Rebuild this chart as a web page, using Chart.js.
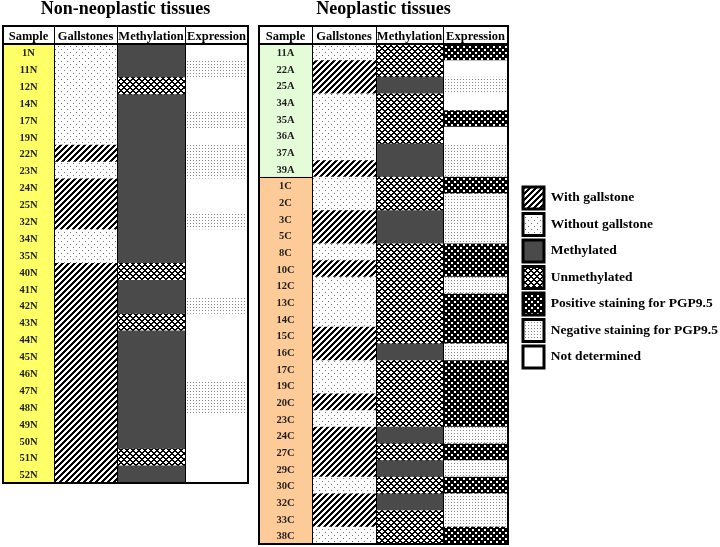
<!DOCTYPE html>
<html>
<head>
<meta charset="utf-8">
<title>Gallstones, methylation and PGP9.5 expression</title>
<script src="https://cdn.jsdelivr.net/npm/chart.js@4.4.1/dist/chart.umd.min.js"></script>
<style>
  body { margin: 0; background: #fff; }
  #wrap { position: relative; width: 720px; height: 547px; overflow: hidden; }
  canvas { position: absolute; top: 0; }
</style>
</head>
<body>
<div id="wrap">
  <canvas id="left-table" width="251" height="547" style="left:0px"></canvas>
  <canvas id="right-table" width="258" height="547" style="left:255px"></canvas>
  <canvas id="legend" width="440" height="547" style="left:518px"></canvas>
</div>
<script>
// ---- data ----
var headers = ['Sample', 'Gallstones', 'Methylation', 'Expression'];

var leftSamples = ['1N','11N','12N','14N','17N','19N','22N','23N','24N','25N','32N','34N','35N',
  '40N','41N','42N','43N','44N','45N','46N','47N','48N','49N','50N','51N','52N'];
var leftGallstones = ['without','without','without','without','without','without','with','without',
  'with','with','with','without','without',
  'with','with','with','with','with','with','with','with','with','with','with','with','with'];
var leftMethylation = ['meth','meth','unmeth','meth','meth','meth','meth','meth','meth','meth','meth','meth','meth',
  'unmeth','meth','meth','unmeth','meth','meth','meth','meth','meth','meth','meth','unmeth','meth'];
var leftExpression = ['nd','neg','nd','nd','neg','nd','neg','neg','nd','nd','neg','nd','nd',
  'nd','nd','neg','nd','nd','nd','nd','neg','neg','nd','nd','nd','nd'];

var rightSamples = ['11A','22A','25A','34A','35A','36A','37A','39A',
  '1C','2C','3C','5C','8C','10C','12C','13C','14C','15C','16C','17C','19C',
  '20C','23C','24C','27C','29C','30C','32C','33C','38C'];
var rightGallstones = ['without','with','with','without','without','without','without','with',
  'without','without','with','with','without','with','without','without','without','with','with','without','without',
  'with','without','with','with','with','without','with','with','without'];
var rightMethylation = ['unmeth','unmeth','meth','unmeth','unmeth','unmeth','meth','meth',
  'unmeth','unmeth','meth','meth','unmeth','unmeth','unmeth','unmeth','unmeth','unmeth','meth','unmeth','unmeth',
  'unmeth','unmeth','meth','unmeth','meth','unmeth','meth','unmeth','unmeth'];
var rightExpression = ['pos','nd','neg','nd','pos','nd','neg','neg',
  'pos','neg','neg','neg','pos','pos','neg','pos','pos','pos','neg','pos','pos',
  'pos','pos','neg','pos','neg','pos','neg','neg','pos'];

var legendKeys = ['with','without','meth','unmeth','pos','neg','nd'];
var legendTexts = ['With gallstone','Without gallstone','Methylated','Unmethylated',
  'Positive staining for PGP9.5','Negative staining for PGP9.5','Not determined'];

// ---- styles ----
var SERIF = '"Liberation Serif", "Times New Roman", serif';
var sampleColors = { N: '#ffff66', A: '#e4fdd8', C: '#fdcb98' };

// tile of size x size pixels, ink(x, y) says which pixels get the ink colour
function pixelPattern(size, ink, inkColor, bg) {
  var c = document.createElement('canvas');
  c.width = size; c.height = size;
  var g = c.getContext('2d');
  g.fillStyle = bg || '#fff';
  g.fillRect(0, 0, size, size);
  g.fillStyle = inkColor || '#000';
  for (var py = 0; py < size; py++) {
    for (var px = 0; px < size; px++) {
      if (ink(px, py)) g.fillRect(px, py, 1, 1);
    }
  }
  return g.createPattern(c, 'repeat');
}

var fills = {
  with: pixelPattern(6, function (x, y) { return (x + y) % 6 < 3; }),
  without: pixelPattern(6, function (x, y) { return (x === 1 && y === 1) || (x === 4 && y === 4); }, '#777'),
  meth: '#4a4a4a',
  unmeth: pixelPattern(6, function (x, y) { return (x + y) % 6 < 2 || (x - y + 6) % 6 < 2; }),
  pos: pixelPattern(6, function (x, y) {
    return !((x >= 1 && x <= 2 && y >= 1 && y <= 2) || (x >= 4 && y >= 4));
  }),
  neg: pixelPattern(3, function (x, y) { return x === 1 && y === 1; }, '#8c8c8c'),
  nd: '#fff'
};

// draws sample names, grid lines and the boxes of the table
var tableFrame = {
  id: 'tableFrame',
  afterDatasetsDraw: function (chart, args, opts) {
    var ctx = chart.ctx, a = chart.chartArea, x = chart.scales.x, y = chart.scales.y;
    var labels = chart.data.labels;
    ctx.save();
    ctx.font = 'bold 10.5px ' + SERIF;
    ctx.fillStyle = '#1e1e1e';
    ctx.textAlign = 'center';
    ctx.textBaseline = 'middle';
    var cx = x.getPixelForValue(opts.cols[0] / 2);
    var sampleRight = x.getPixelForValue(opts.cols[0]);
    for (var i = 0; i < labels.length; i++) {
      ctx.fillText(labels[i], cx, y.getPixelForValue(i) + 1);
    }
    ctx.strokeStyle = '#000';
    ctx.lineWidth = 1;
    // line between sample groups (A / C)
    for (i = 1; i < labels.length; i++) {
      if (labels[i].slice(-1) !== labels[i - 1].slice(-1)) {
        var yy = Math.round((y.getPixelForValue(i) + y.getPixelForValue(i - 1)) / 2) + 0.5;
        ctx.beginPath(); ctx.moveTo(a.left, yy); ctx.lineTo(sampleRight, yy); ctx.stroke();
      }
    }
    var acc = 0;
    for (var k = 0; k < opts.cols.length - 1; k++) {
      acc += opts.cols[k];
      var px = Math.round(x.getPixelForValue(acc)) + 0.5;
      ctx.beginPath(); ctx.moveTo(px, x.top); ctx.lineTo(px, a.bottom); ctx.stroke();
    }
    ctx.lineWidth = 2;
    ctx.strokeRect(a.left, x.top, a.right - a.left, x.bottom - x.top);
    ctx.strokeRect(a.left, a.top, a.right - a.left, a.bottom - a.top);
    ctx.restore();
  }
};

function cellFill(codes) {
  return function (c) { return fills[codes[c.dataIndex]]; };
}

function buildTable(id, title, samples, gall, meth, expr, colW, pad) {
  var centers = [], total = 0;
  colW.forEach(function (w) { centers.push(total + w / 2); total += w; });
  var columns = [null, gall, meth, expr];
  var datasets = headers.map(function (h, j) {
    return {
      label: h,
      data: samples.map(function () { return colW[j]; }),
      backgroundColor: j === 0
        ? function (c) { return sampleColors[samples[c.dataIndex].slice(-1)]; }
        : cellFill(columns[j])
    };
  });
  new Chart(document.getElementById(id), {
    type: 'bar',
    data: { labels: samples, datasets: datasets },
    options: {
      indexAxis: 'y',
      responsive: false,
      animation: false,
      events: [],
      layout: { padding: pad },
      datasets: { bar: { barPercentage: 1, categoryPercentage: 1, borderWidth: 0, inflateAmount: 0.5 } },
      plugins: {
        legend: { display: false },
        tooltip: { enabled: false },
        title: {
          display: true, text: title, color: '#000',
          font: { family: SERIF, size: 18, weight: 'bold', lineHeight: 1 },
          padding: { top: 0, bottom: 8 }
        },
        tableFrame: { cols: colW }
      },
      scales: {
        x: {
          type: 'linear', position: 'top', stacked: true, min: 0, max: total,
          grid: { display: false, drawTicks: false },
          border: { display: false },
          afterBuildTicks: function (s) { s.ticks = centers.map(function (v) { return { value: v }; }); },
          afterFit: function (s) { s.height = 18; s.paddingLeft = 0; s.paddingRight = 0; },
          ticks: {
            autoSkip: false, maxRotation: 0, minRotation: 0, padding: 0, color: '#000',
            font: { family: SERIF, size: 12.5, weight: 'bold' },
            callback: function (v, i) { return headers[i]; }
          }
        },
        y: { type: 'category', stacked: true, display: false }
      }
    },
    plugins: [tableFrame]
  });
}

buildTable('left-table', 'Non-neoplastic tissues', leftSamples, leftGallstones, leftMethylation, leftExpression,
  [51, 63, 68, 63], { left: 3, right: 3, top: 0, bottom: 64 });
buildTable('right-table', 'Neoplastic tissues', rightSamples, rightGallstones, rightMethylation, rightExpression,
  [53, 64, 67, 65], { left: 4, right: 5, top: 0, bottom: 3 });

// legend: a chart with empty datasets, only its legend is shown
new Chart(document.getElementById('legend'), {
  type: 'bar',
  data: {
    labels: [],
    datasets: legendKeys.map(function (k, i) {
      return { label: legendTexts[i], data: [], backgroundColor: fills[k], borderColor: '#000', borderWidth: 3 };
    })
  },
  options: {
    responsive: false,
    animation: false,
    events: [],
    layout: { padding: { left: 0.5, top: 182.5 } },
    scales: { x: { display: false }, y: { display: false } },
    plugins: {
      tooltip: { enabled: false },
      legend: {
        position: 'left',
        align: 'start',
        labels: {
          boxWidth: 21, boxHeight: 22, padding: 4.5, color: '#000',
          font: { family: SERIF, size: 13.5, weight: 'bold' },
          generateLabels: function (chart) {
            return chart.data.datasets.map(function (d, i) {
              return { text: d.label, fillStyle: d.backgroundColor, strokeStyle: '#000', lineWidth: 3,
                hidden: false, datasetIndex: i, fontColor: '#000' };
            });
          }
        }
      }
    }
  }
});
</script>
</body>
</html>
